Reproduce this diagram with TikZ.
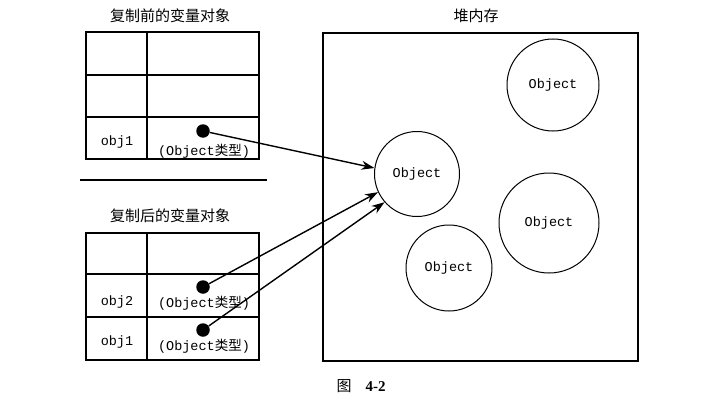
\documentclass[tikz,border=0pt]{standalone}
\usepackage{fontspec}
\setmainfont{Liberation Serif}
\setmonofont{Liberation Mono}
\newfontfamily\zhfont{Noto Sans CJK SC}
\usetikzlibrary{arrows.meta}
\newcommand{\objtype}{\texttt{(Object}{\zhfont 类型}\texttt{)}}
\begin{document}
\begin{tikzpicture}[x=1pt, y=-1pt,
			grid/.style={line width=1.1pt},
			heapobj/.style={circle, draw, line width=1pt, inner sep=0pt, font=\ttfamily\fontsize{13.5}{15}\selectfont},
			refdot/.style={circle, fill=black, minimum size=13.5pt, inner sep=0pt},
			cell/.style={inner sep=0pt, font=\ttfamily\fontsize{13.5}{15}\selectfont},
			title/.style={inner sep=0pt, font=\zhfont\fontsize{15}{17}\selectfont},
			pointer/.style={line width=1.4pt, -{Stealth[length=13pt, width=9pt]}},
		]
		\useasboundingbox (0,0) rectangle (719,409);

		% variables before copying
		\node[title] (before) at (170,16) {复制前的变量对象};
		\draw[grid] (86,32) rectangle (259,159);
		\draw[grid] (147,32) -- (147,159) (86,75) -- (259,75) (86,117) -- (259,117);
		\node[cell] (b1name) at (117,142) {obj1};
		\node[cell] (b1type) at (204,151) {\objtype};
		\node[refdot] (b1) at (203,131) {};

		\draw[line width=2.6pt] (80,180) -- (267,180);

		% variables after copying
		\node[title] (after) at (170,216) {复制后的变量对象};
		\draw[grid] (86,233) rectangle (259,360);
		\draw[grid] (147,233) -- (147,360) (86,274) -- (259,274) (86,317) -- (259,317);
		\node[cell] (a2name) at (117,302) {obj2};
		\node[cell] (a2type) at (204,303) {\objtype};
		\node[refdot] (a2) at (203,287) {};
		\node[cell] (a1name) at (117,342) {obj1};
		\node[cell] (a1type) at (204,346) {\objtype};
		\node[refdot] (a1) at (203,330) {};

		% heap
		\node[title] (heap) at (476,16) {堆内存};
		\draw[grid] (323,33) rectangle (638,361);
		\node[heapobj, minimum size=85pt] (obj) at (417,174) {Object};
		\node[heapobj, minimum size=92pt] (objA) at (553,85) {Object};
		\node[heapobj, minimum size=100pt] (objB) at (549,223) {Object};
		\node[heapobj, minimum size=86pt] (objC) at (449,268) {Object};

		\draw[pointer] (b1) -- (obj.172);
		\draw[pointer] (a2) -- (obj.205);
		\draw[pointer] (a1) -- (obj.221);

		\node[inner sep=0pt, font=\fontsize{15}{17}\selectfont] (caption) at (361,386) {{\zhfont 图}\hspace{14pt}\textbf{4-2}};
	\end{tikzpicture}
\end{document}
